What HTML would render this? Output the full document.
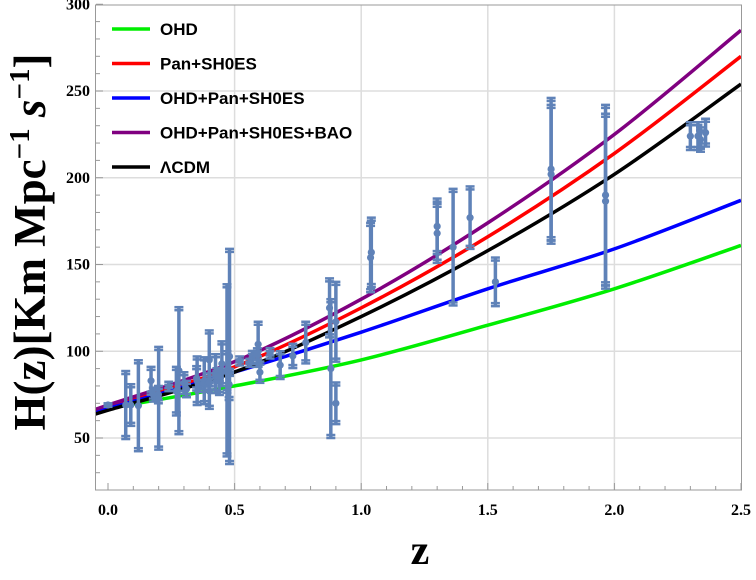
<!DOCTYPE html>
<html><head><meta charset="utf-8"><style>
body{margin:0;background:#fff;}
svg text{font-family:"Liberation Sans",sans-serif;}
.tk{font-family:"Liberation Serif",serif;font-weight:bold;}
</style></head><body>
<svg id="chart" width="756" height="575" xmlns="http://www.w3.org/2000/svg">
<g id="grid"></g>
<g id="curves"></g>
<g id="pts"></g>
<rect x="95.5" y="5" width="646" height="485" fill="none" stroke="#999" stroke-width="1"/>
<g id="ticks"></g>
<text x="420" y="564" font-weight="bold" font-size="42" text-anchor="middle" style="font-family:'Liberation Serif',serif">z</text>
<text transform="translate(45,242) rotate(-90)" text-anchor="middle" font-weight="bold" font-size="45" style="font-family:'Liberation Serif',serif">H(z)[Km Mpc<tspan dy="-16" font-size="29">−1</tspan><tspan dy="16"> </tspan><tspan font-style="italic">s</tspan><tspan dy="-16" font-size="29">−1</tspan><tspan dy="16">]</tspan></text>
<g id="legend"></g>
</svg>
<script>
const zGrid=[0,0.5,1,1.5,2,2.5];
const xTickLabels=["0.0","0.5","1.0","1.5","2.0","2.5"];
const yTicks=[50,100,150,200,250,300];
const seriesNames=["OHD","Pan+SH0ES","OHD+Pan+SH0ES","OHD+Pan+SH0ES+BAO","ΛCDM"];
const seriesColors=["#00ee00","#ff0000","#0000ff","#800080","#000000"];
const hOHD=[67,80,95,115,136,161];
const hPan=[68,91,125,166,214,270];
const hJoint=[67,88,111,136,159,187];
const hBAO=[69,94,130,174,225,285];
const hLCDM=[66,88,120,158,202,254];
const dataZ=[0.07,0.09,0.12,0.17,0.179,0.199,0.2,0.27,0.28,0.352,0.3802,0.4,0.4004,0.4247,0.4497,0.47,0.4783,0.48,0.593,0.68,0.781,0.875,0.88,0.9,1.037,1.3,1.363,1.43,1.53,1.75,1.965,0.24,0.35,0.43,0.44,0.6,0.73,0.57,0.3,0.31,0.36,0.38,0.4,0.44,0.48,0.52,0.56,0.59,0.64,2.3,2.33,2.34,2.36,0.0,0.47,0.9,1.75,1.965,1.04,1.3];
const dataH=[69,69,68.6,83,75,75,72.9,77,88.8,83,83,95,77,87.1,92.8,89,80.9,97,104,92,105,125,90,117,154,168,160,177,140,202,186.5,79.7,84.4,86.5,82.6,87.9,97.3,96.8,81.7,78.2,79.9,81.5,82,84.8,87.8,94.4,93.3,98.5,98.8,224,224,222,226,69,88,70,205,190,157,172];
const dataErr=[19.6,12,26.2,8,4,5,29.6,14,36.6,14,13.5,17,10.2,11.2,12.9,49.6,9,62,13,8,12,17,40,23,20,17,33.6,18,14,40,50.4,2.7,7,3.7,7.8,6.1,7,3.4,6.2,4.7,3.4,1.9,2,1.8,2,2.6,2.3,3.2,3,8,8,7,8,1,12,12,41,52,20,16];
const X=z=>108+z*253.2, Y=h=>438-(h-50)*1.735;
const NS="http://www.w3.org/2000/svg";
function mk(tag,attrs,parent){const e=document.createElementNS(NS,tag);for(const k in attrs)e.setAttribute(k,attrs[k]);parent.appendChild(e);return e;}
const grid=document.getElementById('grid'),ticks=document.getElementById('ticks');
zGrid.forEach((z,i)=>{if(z>0&&z<2.5){const l=mk('line',{x1:X(z),x2:X(z),y1:5,y2:490,stroke:'#ddd','stroke-width':1.5},grid);}
const t=mk('text',{x:X(z),y:515,'font-size':16,'text-anchor':'middle',fill:'#000',class:'tk'},ticks);t.textContent=xTickLabels[i];});
for(let z=0;z<=2.51;z+=0.1){const mj=Math.abs(z*2-Math.round(z*2))<1e-6;mk('line',{x1:X(z),x2:X(z),y1:490,y2:490-(mj?7:4),stroke:'#999'},ticks);}
yTicks.forEach(h=>{if(h<300){const l=mk('line',{x1:96,x2:742,y1:Y(h),y2:Y(h),stroke:'#ddd','stroke-width':1.5},grid);}
const t=mk('text',{x:90,y:Y(h)+5,'font-size':16,'text-anchor':'end',fill:'#000',class:'tk'},ticks);t.textContent=h;});
for(let h=30;h<=300;h+=10){const mj=h%50===0;mk('line',{x1:96,x2:96+(mj?7:4),y1:Y(h),y2:Y(h),stroke:'#999'},ticks);}
function smooth(vals){const p=zGrid.map((z,i)=>[X(z),Y(vals[i])]);let d=`M${p[0][0]},${p[0][1]}`;
for(let i=0;i<p.length-1;i++){const p0=p[Math.max(0,i-1)],p1=p[i],p2=p[i+1],p3=p[Math.min(p.length-1,i+2)];
d+=` C${p1[0]+(p2[0]-p0[0])/6},${p1[1]+(p2[1]-p0[1])/6} ${p2[0]-(p3[0]-p1[0])/6},${p2[1]-(p3[1]-p1[1])/6} ${p2[0]},${p2[1]}`;}
const x0=X(-0.05),s=(p[1][1]-p[0][1])/(p[1][0]-p[0][0]);return `M${x0},${p[0][1]-s*(p[0][0]-x0)} L`+d.slice(1);}
const curves=document.getElementById('curves');
[hOHD,hPan,hJoint,hBAO,hLCDM].forEach((v,i)=>{const e=mk('path',{d:smooth(v),fill:'none',stroke:seriesColors[i],'stroke-width':3.5},curves);});
const pts=document.getElementById('pts');const c='#5f82b8';
dataZ.forEach((z,i)=>{const g=mk('g',{},pts);
const x=X(z),y=Y(dataH[i]),y1=Y(dataH[i]+dataErr[i]),y2=Y(dataH[i]-dataErr[i]);
mk('line',{x1:x,x2:x,y1:y1,y2:y2,stroke:c,'stroke-width':3.5},g);
[y1,y2].forEach(yy=>{mk('line',{x1:x-4.5,x2:x+4.5,y1:yy,y2:yy,stroke:c,'stroke-width':2.5},g);mk('line',{x1:x-4.5,x2:x+4.5,y1:yy+(yy===y1?3:-3),y2:yy+(yy===y1?3:-3),stroke:c,'stroke-width':2.5},g);});
mk('circle',{cx:x,cy:y,r:3.6,fill:c},g);});
const lg=document.getElementById('legend');
seriesNames.forEach((n,i)=>{const y=29+i*34.5;const g=mk('g',{},lg);
mk('line',{x1:112,x2:150,y1:y,y2:y,stroke:seriesColors[i],'stroke-width':3.5},g);
const t=mk('text',{x:160,y:y+6,'font-size':17,'font-weight':'bold',fill:'#000'},g);t.textContent=n;});
</script>
</body></html>
